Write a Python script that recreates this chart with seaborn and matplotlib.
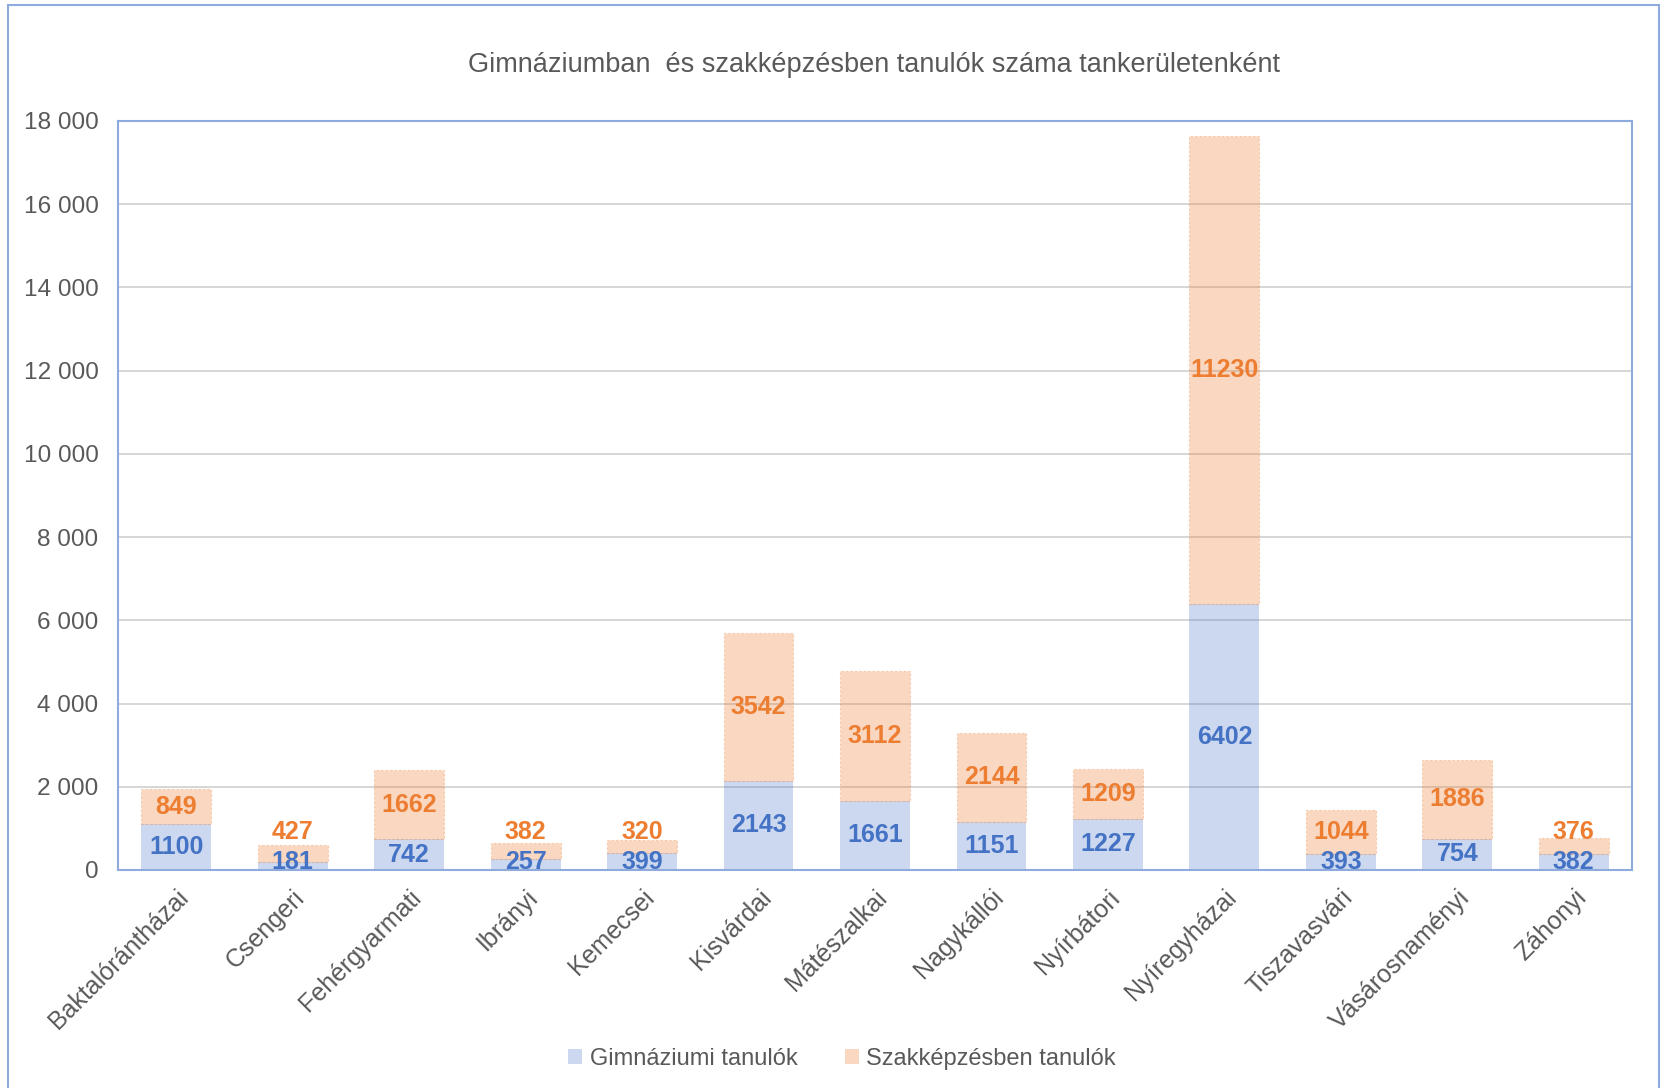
import matplotlib
matplotlib.use("Agg")
import matplotlib.pyplot as plt
from matplotlib.patches import Rectangle, Patch
from matplotlib.ticker import FuncFormatter, MultipleLocator
import seaborn as sns
import pandas as pd
import numpy as np

categories = ["Baktalórántházai", "Csengeri", "Fehérgyarmati", "Ibrányi", "Kemecsei",
              "Kisvárdai", "Mátészalkai", "Nagykállói", "Nyírbátori", "Nyíregyházai",
              "Tiszavasvári", "Vásárosnaményi", "Záhonyi"]
gimn = [1100, 181, 742, 257, 399, 2143, 1661, 1151, 1227, 6402, 393, 754, 382]
szak = [849, 427, 1662, 382, 320, 3542, 3112, 2144, 1209, 11230, 1044, 1886, 376]
series_names = ["Gimnáziumi tanulók", "Szakképzésben tanulók"]
title = "Gimnáziumban  és szakképzésben tanulók száma tankerületenként"

sns.set_style("white")
plt.rcParams["font.family"] = ["Liberation Sans", "DejaVu Sans"]

BLUE = "#4472C4"
ORANGE = "#ED7D31"
GREY = "#595959"
FRAME = "#8FAADC"

df = pd.DataFrame({"cat": categories, "gimn": gimn, "szak": szak})

fig = plt.figure(figsize=(16.67, 10.88), dpi=100)
ax = fig.add_axes([0.0708, 0.2004, 0.9082, 0.6884])

sns.barplot(data=df, x="cat", y="gimn", color=BLUE, alpha=0.27, width=0.6,
            saturation=1, ax=ax, linewidth=0, zorder=2)
sns.barplot(data=df, x="cat", y="szak", color=ORANGE, alpha=0.3, width=0.6,
            saturation=1, ax=ax, bottom=df["gimn"].values, linewidth=0.8,
            edgecolor=(0.93, 0.49, 0.19, 0.25), linestyle=(0, (2, 2)), zorder=2)

ax.set_xlim(-0.5, len(categories) - 0.5)
ax.set_ylim(0, 18000)
ax.yaxis.set_major_locator(MultipleLocator(2000))
ax.yaxis.set_major_formatter(FuncFormatter(lambda v, p: f"{v:,.0f}".replace(",", " ")))
ax.grid(axis="y", color="#D0D0D0", linewidth=1.2, zorder=0)
ax.set_axisbelow(True)
ax.set_xlabel("")
ax.set_ylabel("")
for s in ax.spines.values():
    s.set_color(FRAME)
    s.set_linewidth(1.5)
ax.tick_params(axis="both", length=0, colors=GREY, labelsize=17.6)
ax.tick_params(axis="x", labelsize=18)
ax.tick_params(axis="y", pad=14)
ax.tick_params(axis="x", pad=11)
plt.setp(ax.get_xticklabels(), rotation=45, ha="right", va="top", rotation_mode="anchor")

# data labels
for i, (g, s) in enumerate(zip(gimn, szak)):
    yb = max(g / 2, 200)
    yo = max(g + s / 2, yb + 720)
    ax.text(i, yb, str(g), ha="center", va="center", color=BLUE, fontsize=18,
            fontweight="bold", zorder=5)
    ax.text(i, yo, str(s), ha="center", va="center", color=ORANGE, fontsize=18,
            fontweight="bold", zorder=5)

fig.text(0.524, 0.94, title, ha="center", va="center", fontsize=19.5, color=GREY)

handles = [Patch(facecolor=BLUE, alpha=0.27, edgecolor="none"),
           Patch(facecolor=ORANGE, alpha=0.3, edgecolor="none")]
fig.legend(handles, series_names, loc="center", bbox_to_anchor=(0.505, 0.027), ncol=2,
           frameon=False, fontsize=17, labelcolor=GREY, handlelength=0.6,
           handleheight=0.6, handletextpad=0.3, columnspacing=2.0)

fig.patches.append(Rectangle((0.005, -0.01), 0.99, 1.005, transform=fig.transFigure,
                             fill=False, edgecolor=FRAME, linewidth=1.5))

fig.savefig("out.png", dpi=100)
